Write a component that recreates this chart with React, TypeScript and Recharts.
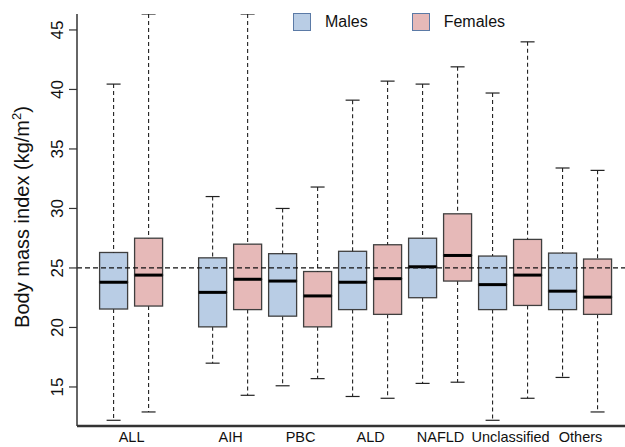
import React from "react";
import { ComposedChart, Bar, XAxis, YAxis, ReferenceLine, Legend } from "recharts";

const groups = ["ALL", "AIH", "PBC", "ALD", "NAFLD", "Unclassified", "Others"];
const series = ["Males", "Females"];
const yTicks = [15, 20, 25, 30, 35, 40, 45];

// five-number summaries, one entry per group
const maleMin = [12.2, 17.0, 15.1, 14.2, 15.3, 12.2, 15.8];
const maleQ1 = [21.55, 20.05, 20.95, 21.5, 22.5, 21.5, 21.5];
const maleMed = [23.8, 22.95, 23.9, 23.8, 25.1, 23.6, 23.05];
const maleQ3 = [26.3, 25.85, 26.2, 26.4, 27.5, 26.0, 26.25];
const maleMax = [40.45, 31.0, 30.0, 39.1, 40.45, 39.7, 33.4];

const femaleMin = [12.9, 14.3, 15.7, 14.05, 15.4, 14.05, 12.9];
const femaleQ1 = [21.8, 21.5, 20.05, 21.1, 23.9, 21.85, 21.1];
const femaleMed = [24.4, 24.05, 22.65, 24.1, 26.05, 24.4, 22.55];
const femaleQ3 = [27.5, 27.0, 24.7, 26.95, 29.55, 27.4, 25.75];
const femaleMax = [52.0, 50.0, 31.8, 40.7, 41.9, 44.0, 33.2];

const refValue = 25;

const FONT = "'Liberation Sans', Arial, Helvetica, sans-serif";
const FILLS = ["#b9cde5", "#e6b9b8"];
const EDGE = "#3f3f3f";
const AXIS = "#333";
const GAP = 0.83; // extra space after the ALL pair
const X_MIN = -0.06;
const X_MAX = 15.6;
const Y_MIN = 11.72;
const Y_MAX = 46.34;

const boxes = groups.flatMap((g, gi) =>
  series.map((s, si) => {
    const min = si === 0 ? maleMin[gi] : femaleMin[gi];
    const q1 = si === 0 ? maleQ1[gi] : femaleQ1[gi];
    const med = si === 0 ? maleMed[gi] : femaleMed[gi];
    const q3 = si === 0 ? maleQ3[gi] : femaleQ3[gi];
    const max = si === 0 ? maleMax[gi] : femaleMax[gi];
    return {
      pos: gi * 2 + si + 1 + (gi > 0 ? GAP : 0),
      group: g,
      sex: si,
      base: min,
      lowW: q1 - min,
      lowBox: med - q1,
      upBox: q3 - med,
      upW: max - q3,
    };
  })
);

const groupTicks = groups.map((_, gi) => (boxes[gi * 2].pos + boxes[gi * 2 + 1].pos) / 2);

const LowerWhisker = (p: any) => {
  const cx = p.x + p.width / 2;
  const cap = p.width / 4;
  const yb = p.y + p.height;
  return (
    <g>
      <line x1={cx} x2={cx} y1={p.y} y2={yb} stroke="#222" strokeWidth={1.1} strokeDasharray="4 3" />
      <line x1={cx - cap} x2={cx + cap} y1={yb} y2={yb} stroke="#222" strokeWidth={1.2} />
    </g>
  );
};

const UpperWhisker = (p: any) => {
  const cx = p.x + p.width / 2;
  const cap = p.width / 4;
  return (
    <g>
      <line x1={cx} x2={cx} y1={p.y} y2={p.y + p.height} stroke="#222" strokeWidth={1.1} strokeDasharray="4 3" />
      <line x1={cx - cap} x2={cx + cap} y1={p.y} y2={p.y} stroke="#222" strokeWidth={1.2} />
    </g>
  );
};

const LowerBox = (p: any) => (
  <rect x={p.x} y={p.y} width={p.width} height={p.height}
        fill={FILLS[p.payload.sex]} stroke={EDGE} strokeWidth={1.3} />
);

const UpperBox = (p: any) => (
  <g>
    <rect x={p.x} y={p.y} width={p.width} height={p.height}
          fill={FILLS[p.payload.sex]} stroke={EDGE} strokeWidth={1.3} />
    <line x1={p.x} x2={p.x + p.width} y1={p.y + p.height} y2={p.y + p.height}
          stroke="#000" strokeWidth={3} />
  </g>
);

const YTick = ({ x, y, payload }: any) => (
  <text x={x} y={y} transform={`rotate(-90 ${x} ${y})`} textAnchor="middle"
        fontSize={17} fill="#111" fontFamily={FONT}>
    {payload.value}
  </text>
);

const YTitle = ({ viewBox }: any) => {
  const x = viewBox.x + 28.5;
  const y = viewBox.y + viewBox.height / 2 - 3;
  return (
    <text x={x} y={y} transform={`rotate(-90 ${x} ${y})`} textAnchor="middle"
          fontSize={20} fill="#111" fontFamily={FONT}>
      Body mass index (kg/m
      <tspan dy={-8} fontSize={13}>2</tspan>
      <tspan dy={8}>)</tspan>
    </text>
  );
};

const LegendBox = () => (
  <div style={{ display: "flex", alignItems: "center", fontFamily: FONT, fontSize: 16, color: "#111" }}>
    {series.map((s, i) => (
      <div key={s} style={{ display: "flex", alignItems: "center", marginRight: i === 0 ? 44 : 0 }}>
        <span style={{ display: "inline-block", width: 16, height: 16, background: FILLS[i],
                       border: "1.5px solid #5b7aa6", marginRight: 14 }} />
        <span>{s}</span>
      </div>
    ))}
  </div>
);

export default function App() {
  return (
    <div style={{ position: "absolute", left: 0, top: 0 }}>
      <ComposedChart width={625} height={447} data={boxes}
                     margin={{ top: 14, right: 0, bottom: 0, left: 0 }}>
        <XAxis dataKey="pos" type="number" domain={[X_MIN, X_MAX]} allowDataOverflow
               ticks={groupTicks} interval={0}
               tickFormatter={(v: number) => groups[groupTicks.findIndex((t) => Math.abs(t - v) < 1e-6)] ?? ""}
               tickLine={false} tickSize={4} tickMargin={2} height={21}
               axisLine={{ stroke: AXIS, strokeWidth: 2.5 }}
               tick={{ fontSize: 14.5, fill: "#111", fontFamily: FONT }} />
        <YAxis type="number" domain={[Y_MIN, Y_MAX]} allowDataOverflow ticks={yTicks} interval={0}
               width={77} tickSize={8} tickMargin={6}
               axisLine={{ stroke: AXIS, strokeWidth: 1.5 }}
               tickLine={{ stroke: AXIS, strokeWidth: 1.2 }}
               tick={<YTick />} label={<YTitle />} />
        <Legend layout="vertical" align="center" verticalAlign="middle"
                wrapperStyle={{ top: 13, left: 293, width: "auto" }} content={<LegendBox />} />
        <Bar dataKey="base" stackId="b" barSize={28} fill="none" isAnimationActive={false} />
        <Bar dataKey="lowW" stackId="b" barSize={28} shape={<LowerWhisker />} isAnimationActive={false} />
        <Bar dataKey="lowBox" stackId="b" barSize={28} shape={<LowerBox />} isAnimationActive={false} />
        <Bar dataKey="upBox" stackId="b" barSize={28} shape={<UpperBox />} isAnimationActive={false} />
        <Bar dataKey="upW" stackId="b" barSize={28} shape={<UpperWhisker />} isAnimationActive={false} />
        <ReferenceLine y={refValue} stroke="#111" strokeWidth={1.2} strokeDasharray="5 3" />
      </ComposedChart>
    </div>
  );
}
